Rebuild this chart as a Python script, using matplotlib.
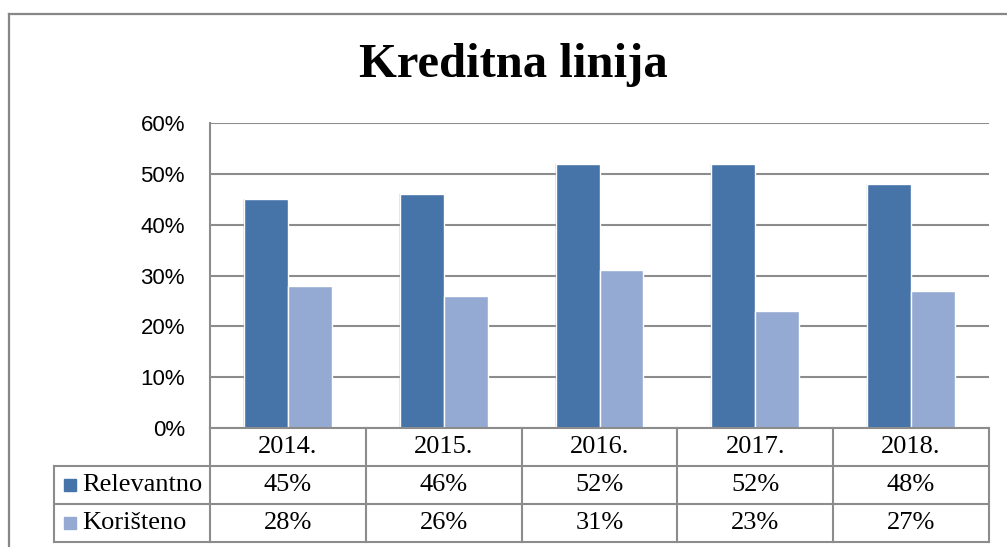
import matplotlib.pyplot as plt
from matplotlib.lines import Line2D
from matplotlib.transforms import blended_transform_factory
from matplotlib.ticker import PercentFormatter
import numpy as np

# chart data
years = ["2014.", "2015.", "2016.", "2017.", "2018."]
relevantno = [0.45, 0.46, 0.52, 0.52, 0.48]
koristeno = [0.28, 0.26, 0.31, 0.23, 0.27]
series_names = ["Relevantno", "Korišteno"]
colors = ["#4673A8", "#95AAD2"]

grey = "#8C8C8C"

fig = plt.figure(figsize=(10.07, 5.47), dpi=100)
W, H = 1007, 547

# plot area in pixels: left 210, right 989, top 123, bottom 428
ax = fig.add_axes([210 / W, (H - 428) / H, (989 - 210) / W, (428 - 123) / H])

x = np.arange(len(years))
bw = 0.282
# faint shadow behind the bars
for off in (0.012, 0.007):
    ax.bar(x - bw / 2, relevantno, bw + off, color="#000000", alpha=0.06, linewidth=0, zorder=2)
    ax.bar(x + bw / 2, koristeno, bw + off, color="#000000", alpha=0.06, linewidth=0, zorder=2)
ax.bar(x - bw / 2, relevantno, bw, color=colors[0], edgecolor="white", linewidth=1, zorder=3)
ax.bar(x + bw / 2, koristeno, bw, color=colors[1], edgecolor="white", linewidth=1, zorder=3)

ax.set_xlim(-0.5, len(years) - 0.5)
ax.set_ylim(0, 0.6)
ax.set_yticks(np.arange(0, 0.61, 0.1))
ax.yaxis.set_major_formatter(PercentFormatter(1.0, decimals=0))
ax.set_xticks([])
ax.tick_params(axis="y", length=0, pad=18, labelsize=16)
for lab in ax.get_yticklabels():
    lab.set_fontfamily("Liberation Sans")
ax.grid(axis="y", color=grey, linewidth=1.5, zorder=0)
for side in ["top", "right", "bottom"]:
    ax.spines[side].set_visible(False)
ax.spines["left"].set_color(grey)
ax.spines["left"].set_linewidth(1.5)

# data table below the plot
tr = blended_transform_factory(ax.transData, ax.transAxes)
row_h = 38 / (428 - 123)
n = len(years)
line_kw = dict(color=grey, linewidth=1.5, transform=tr, clip_on=False, zorder=4)
txt_kw = dict(transform=tr, fontsize=19, fontfamily="Liberation Serif",
              va="center", clip_on=False)

# horizontal lines
ax.plot([-0.5, n - 0.5], [0, 0], **line_kw)
for r in range(1, 4):
    ax.plot([-1.5, n - 0.5], [-r * row_h, -r * row_h], **line_kw)
# vertical lines
ax.plot([-1.5, -1.5], [-row_h, -3 * row_h], **line_kw)
for c in range(n + 1):
    ax.plot([c - 0.5, c - 0.5], [0, -3 * row_h], **line_kw)

# header row
for i, yr in enumerate(years):
    ax.text(i, -0.5 * row_h, yr, ha="center", **txt_kw)

# value rows
for r, (name, vals) in enumerate(zip(series_names, [relevantno, koristeno])):
    yc = -(r + 1.5) * row_h
    ax.plot([-1.397], [yc], marker="s", markersize=8.6, color=colors[r],
            transform=tr, clip_on=False, zorder=5)
    ax.text(-1.32, yc, name, ha="left", **txt_kw)
    for i, v in enumerate(vals):
        ax.text(i, yc, f"{v * 100:.0f}%", ha="center", **txt_kw)

# title
fig.text(513 / W, 1 - 65 / H, "Kreditna linija", ha="center", va="center",
         fontsize=35, fontweight="bold", fontfamily="Liberation Serif")

# outer chart frame (only left and top edges are visible)
fig.add_artist(Line2D([8.5 / W, 8.5 / W], [0, 1 - 13.5 / H], color="#878787", linewidth=1.6))
fig.add_artist(Line2D([8.5 / W, 1], [1 - 13.5 / H, 1 - 13.5 / H], color="#878787", linewidth=1.6))

fig.savefig("out.png", dpi=100)
